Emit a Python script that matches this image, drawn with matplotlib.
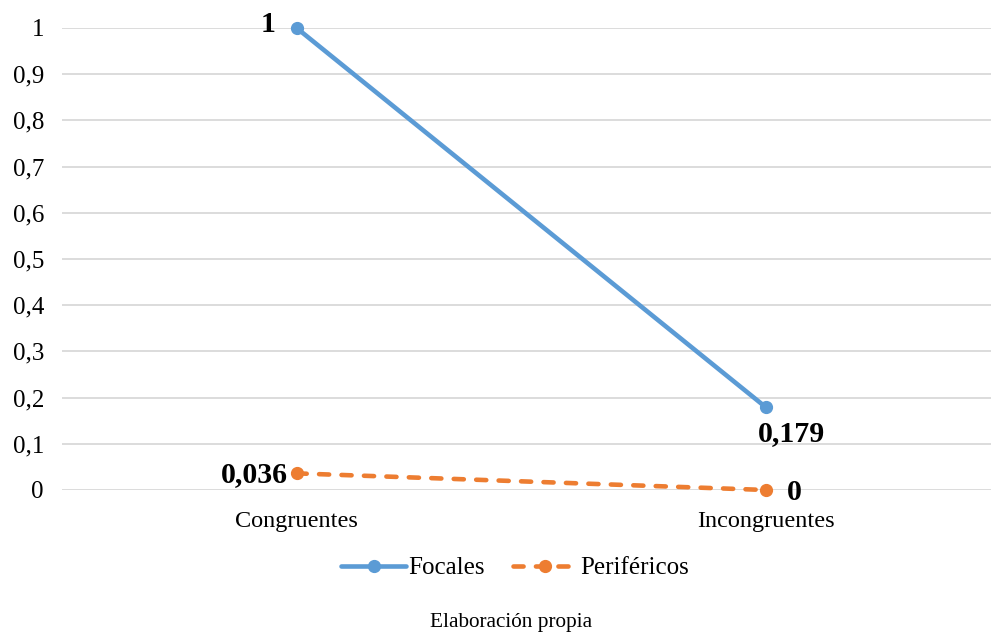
import matplotlib
matplotlib.use("Agg")
import matplotlib.pyplot as plt
from matplotlib.ticker import FixedLocator

categories = ["Congruentes", "Incongruentes"]
focales = [1.0, 0.179]
perifericos = [0.036, 0.0]
focales_labels = ["1", "0,179"]
perifericos_labels = ["0,036", "0"]
yticks = [0, 0.1, 0.2, 0.3, 0.4, 0.5, 0.6, 0.7, 0.8, 0.9, 1]
ytick_labels = ["0", "0,1", "0,2", "0,3", "0,4", "0,5", "0,6", "0,7", "0,8", "0,9", "1"]

plt.rcParams['font.family'] = ['Liberation Serif', 'DejaVu Serif']

W, H = 991, 632
fig = plt.figure(figsize=(W/100, H/100), dpi=100)
left, right = 62/W, 991/W
bottom, top = 1 - 490/H, 1 - 28/H
ax = fig.add_axes([left, bottom, right-left, top-bottom])

x = list(range(len(categories)))
blue = "#5B9BD5"
orange = "#ED7D31"
lw = 3.3
l1, = ax.plot(x, focales, color=blue, lw=lw, marker='o', ms=8.5, solid_capstyle='round',
              label="Focales", zorder=3, clip_on=False)
l2, = ax.plot(x, perifericos, color=orange, lw=lw, ls=(0, (2.2, 2.7)), dash_capstyle='round',
              marker='o', ms=8.5, label="Periféricos", zorder=3, clip_on=False)

ax.set_xlim(-0.5, 1.5 - 9.5/469)
ax.set_ylim(0, 1)
ax.yaxis.set_major_locator(FixedLocator(yticks))
ax.set_yticklabels(ytick_labels, fontsize=18)
ax.set_xticks(x)
ax.set_xticklabels(categories, fontsize=17.5)
ax.tick_params(axis='y', length=0, pad=13)
ax.tick_params(axis='x', length=0, pad=15)
for s in ax.spines.values():
    s.set_visible(False)
ax.grid(axis='y', color='#D9D9D9', lw=1.3)
ax.set_axisbelow(True)

fs = 21.5
def px(v):
    return v * 72 / 100

ax.annotate(focales_labels[0], (x[0], focales[0]), xytext=(px(-21), px(4)), textcoords='offset points',
            ha='right', va='center', fontsize=fs, fontweight='bold')
ax.annotate(focales_labels[1], (x[1], focales[1]), xytext=(px(-8), px(-26)), textcoords='offset points',
            ha='left', va='center', fontsize=fs, fontweight='bold')
ax.annotate(perifericos_labels[0], (x[0], perifericos[0]), xytext=(px(-9), px(-1)), textcoords='offset points',
            ha='right', va='center', fontsize=fs, fontweight='bold')
ax.annotate(perifericos_labels[1], (x[1], perifericos[1]), xytext=(px(21), px(-3)), textcoords='offset points',
            ha='left', va='center', fontsize=fs, fontweight='bold')

fig.legend(handles=[l1, l2], loc='center', bbox_to_anchor=(515/W, 1 - 568/H), ncol=2,
           frameon=False, fontsize=18, handlelength=2.6, handletextpad=0.1, columnspacing=1.1)

fig.text(511/W, 1 - 622/H, "Elaboración propia", ha='center', va='center', fontsize=15.3)

fig.savefig("out.png", dpi=100)
